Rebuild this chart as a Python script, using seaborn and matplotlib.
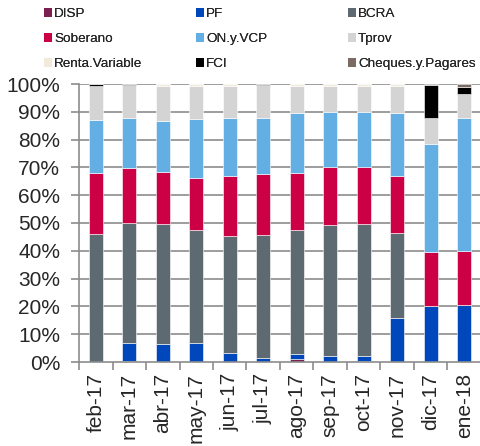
import matplotlib
matplotlib.use("Agg")
import matplotlib.pyplot as plt
import seaborn as sns
import numpy as np
from matplotlib.patches import Patch
from matplotlib.ticker import FixedLocator

sns.set_theme(style="white")
plt.rcParams['font.family'] = ['Liberation Sans', 'DejaVu Sans']

categories = ["feb-17", "mar-17", "abr-17", "may-17", "jun-17", "jul-17",
              "ago-17", "sep-17", "oct-17", "nov-17", "dic-17", "ene-18"]

DISP = [0, 0.3, 0, 0, 0, 0, 0.9, 0, 0.3, 0, 0, 0]
PF = [0, 6.6, 6.6, 6.8, 3.2, 1.5, 2.1, 2.0, 2.0, 15.9, 20.3, 20.5]
BCRA = [46.0, 43.2, 43.1, 40.7, 42.0, 44.2, 44.5, 47.4, 47.4, 30.6, 0, 0]
Soberano = [22.1, 19.7, 18.5, 18.6, 21.6, 21.9, 20.6, 20.6, 20.3, 20.3, 19.2, 19.4]
ON_y_VCP = [19.0, 18.0, 18.6, 21.4, 20.9, 20.2, 21.4, 19.9, 19.9, 22.7, 39.0, 47.9]
Tprov = [12.3, 11.7, 12.6, 11.9, 11.7, 11.7, 9.9, 9.5, 9.5, 9.9, 9.3, 8.6]
Renta_Variable = [0, 0.2, 0.6, 0.6, 0.6, 0, 0.6, 0.6, 0.6, 0.6, 0, 0]
FCI = [0.6, 0.3, 0, 0, 0, 0.5, 0, 0, 0, 0, 11.7, 2.4]
Cheques_y_Pagares = [0, 0, 0, 0, 0, 0, 0, 0, 0, 0, 0.5, 1.2]

series_names = ["DISP", "PF", "BCRA", "Soberano", "ON.y.VCP", "Tprov",
                "Renta.Variable", "FCI", "Cheques.y.Pagares"]
series_vals = [DISP, PF, BCRA, Soberano, ON_y_VCP, Tprov,
               Renta_Variable, FCI, Cheques_y_Pagares]
colors = ["#7B2152", "#0047BB", "#5E6A72", "#CC0044", "#63AFE3", "#D4D4D4",
          "#F2EBDC", "#000000", "#7B6B63"]

fig = plt.figure(figsize=(4.81, 4.46), dpi=100)
ax = fig.add_axes([79/481, 1-362/446, (481-79)/481, (362-84)/446])

grid_c = "#8C8C8C"
for v in range(10, 101, 10):
    ax.axhline(v, color=grid_c, lw=1.2, zorder=0)

bottom = np.zeros(len(categories))
for name, vals, c in zip(series_names, series_vals, colors):
    vals = np.array(vals, dtype=float)
    sns.barplot(x=categories, y=vals, bottom=bottom, color=c, width=0.43,
                errorbar=None, ax=ax, edgecolor="#FFFFFF", linewidth=0.4,
                saturation=1, zorder=2)
    bottom = bottom + vals

ax.set_xlim(-0.5, len(categories) - 0.5)
ax.set_ylim(0, 100)
ax.set_yticks(range(0, 101, 10))
ax.set_yticklabels([f"{v}%" for v in range(0, 101, 10)], fontsize=15)
ax.set_xticks(range(len(categories)))
ax.set_xticklabels(categories, rotation=90, fontsize=15)
ax.xaxis.set_minor_locator(FixedLocator(np.arange(-0.5, len(categories), 1.0)))
ax.tick_params(axis="x", which="major", length=0, pad=8)
ax.tick_params(axis="x", which="minor", length=6, color=grid_c, width=1.2, bottom=True)
ax.tick_params(axis="y", length=6, color=grid_c, width=1.2, left=True, pad=7.5)
ax.set_xlabel("")
ax.set_ylabel("")
for s in ["top", "right"]:
    ax.spines[s].set_visible(False)
for s in ["left", "bottom"]:
    ax.spines[s].set_color(grid_c)
    ax.spines[s].set_linewidth(1.2)

# legend: three columns placed individually
cols = [[0, 3, 6], [1, 4, 7], [2, 5, 8]]
xs = [44/481, 196/481, 348/481]
for col, x in zip(cols, xs):
    handles = [Patch(facecolor=colors[i], edgecolor="none") for i in col]
    labels = [series_names[i] for i in col]
    leg = fig.legend(handles, labels, loc="upper left", bbox_to_anchor=(x, 1-8/446),
                     frameon=False, fontsize=9.7, handlelength=0.6, handleheight=0.6,
                     handletextpad=0.15, borderpad=0, borderaxespad=0,
                     labelspacing=0.98)
    fig.add_artist(leg)

fig.savefig("out.png", dpi=100)
